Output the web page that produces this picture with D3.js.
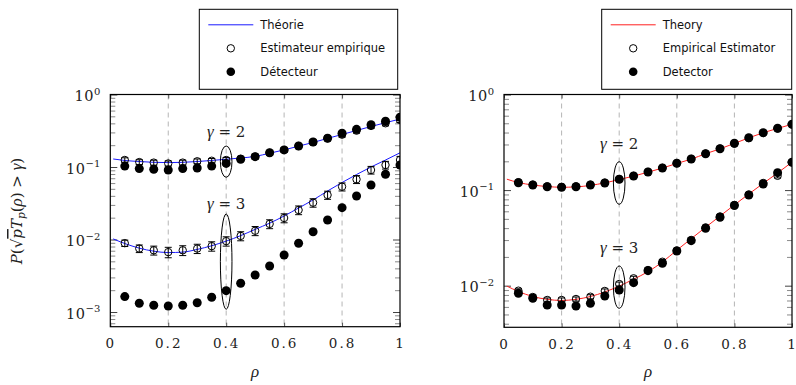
<!DOCTYPE html>
<html>
<head>
<meta charset="utf-8">
<script src="https://cdn.jsdelivr.net/npm/d3@7"></script>
<style>
  body { margin: 0; background: #fff; }
  svg { display: block; }
  .tick text { font-family: "DejaVu Serif", serif; }
</style>
</head>
<body>
<script>
// sample positions (rho)
const rho = [0.05, 0.1, 0.15, 0.2, 0.25, 0.3, 0.35, 0.4, 0.45, 0.5,
  0.55, 0.6, 0.65, 0.7, 0.75, 0.8, 0.85, 0.9, 0.95, 1.0];
const rhoTheory = [0.01, 0.05, 0.1, 0.15, 0.2, 0.25, 0.3, 0.35, 0.4, 0.45, 0.5,
  0.55, 0.6, 0.65, 0.7, 0.75, 0.8, 0.85, 0.9, 0.95, 1.0];

// left panel (french)
const leftTheory2 = [0.129, 0.123, 0.119, 0.116, 0.115, 0.116, 0.119, 0.123, 0.128, 0.133, 0.140,
  0.155, 0.172, 0.194, 0.218, 0.248, 0.281, 0.319, 0.362, 0.408, 0.459];
const leftTheory3 = [0.0102, 0.0088, 0.0076, 0.0069, 0.0066, 0.0067, 0.0073, 0.0082, 0.0095, 0.0113, 0.0138,
  0.0168, 0.0211, 0.0272, 0.0351, 0.0467, 0.0611, 0.0788, 0.100, 0.1248, 0.157];
const leftEmp2 = [0.125, 0.117, 0.115, 0.112, 0.115, 0.120, 0.122, 0.125, 0.130, 0.139,
  0.157, 0.172, 0.195, 0.221, 0.249, 0.279, 0.317, 0.368, 0.401, 0.445];
const leftEmp2Err = [0.009, 0.009, 0.009, 0.009, 0.009, 0.009, 0.009, 0.01, 0.01, 0.011,
  0.012, 0.013, 0.015, 0.017, 0.019, 0.021, 0.024, 0.028, 0.031, 0.034];
const leftDet2 = [0.103, 0.095, 0.093, 0.091, 0.095, 0.097, 0.103, 0.112, 0.128, 0.139,
  0.157, 0.172, 0.195, 0.221, 0.249, 0.292, 0.331, 0.383, 0.427, 0.485];
const leftEmp3 = [0.0089, 0.0075, 0.0071, 0.0067, 0.0071, 0.0075, 0.0081, 0.0095, 0.0112, 0.0132,
  0.0164, 0.0198, 0.0255, 0.0322, 0.0411, 0.0535, 0.0676, 0.0909, 0.1066, 0.125];
const leftEmp3Err = [0.0009, 0.0009, 0.001, 0.0011, 0.0011, 0.0011, 0.0012, 0.0014, 0.0016, 0.0019,
  0.0023, 0.0028, 0.0035, 0.0043, 0.0053, 0.0068, 0.0085, 0.011, 0.013, 0.015];
const leftDet3 = [0.00163, 0.00132, 0.00124, 0.00121, 0.00124, 0.00134, 0.00160, 0.00197, 0.00249, 0.00324,
  0.00431, 0.00611, 0.00887, 0.0128, 0.0186, 0.0275, 0.0398, 0.0565, 0.0793, 0.1066];

// right panel (english)
const rightTheory2 = [0.130, 0.120, 0.113, 0.109, 0.107, 0.108, 0.112, 0.119, 0.129, 0.140, 0.154,
  0.170, 0.190, 0.211, 0.240, 0.270, 0.308, 0.352, 0.398, 0.442, 0.488];
const rightTheory3 = [0.0099, 0.0087, 0.0077, 0.0072, 0.0070, 0.0072, 0.0077, 0.0086, 0.0099, 0.0117, 0.0140,
  0.0177, 0.0235, 0.0310, 0.0408, 0.0535, 0.0700, 0.0910, 0.1175, 0.1510, 0.196];
const rightEmp2 = [0.1210, 0.1140, 0.1095, 0.1080, 0.1095, 0.1140, 0.1195, 0.1305, 0.1410, 0.1550,
  0.1710, 0.1910, 0.2120, 0.2410, 0.2720, 0.3060, 0.3500, 0.3950, 0.4400, 0.4860];
const rightEmp2Err = [0.004, 0.004, 0.004, 0.004, 0.004, 0.004, 0.004, 0.005, 0.005, 0.005,
  0.006, 0.006, 0.007, 0.008, 0.009, 0.01, 0.011, 0.012, 0.013, 0.014];
const rightDet2 = [0.1195, 0.1131, 0.1085, 0.1070, 0.1085, 0.1131, 0.1187, 0.1297, 0.1404, 0.1546,
  0.1703, 0.1907, 0.2115, 0.2403, 0.2710, 0.3087, 0.3532, 0.3986, 0.4430, 0.4879];
const rightEmp3 = [0.00887, 0.00762, 0.00709, 0.00709, 0.00726, 0.00767, 0.00881, 0.01042, 0.01195, 0.01459,
  0.01782, 0.02335, 0.0301, 0.0407, 0.0530, 0.0700, 0.0897, 0.1188, 0.141, 0.1953];
const rightEmp3Err = [0.0004, 0.0004, 0.00035, 0.00035, 0.00036, 0.00038, 0.00044, 0.0005, 0.0006, 0.0007,
  0.0009, 0.0012, 0.0015, 0.002, 0.0026, 0.0035, 0.0045, 0.006, 0.007, 0.01];
const rightDet3 = [0.00833, 0.00738, 0.00628, 0.00628, 0.00613, 0.00655, 0.00780, 0.00902, 0.01075, 0.01435,
  0.01715, 0.02307, 0.02956, 0.03986, 0.05194, 0.06902, 0.08884, 0.1158, 0.1521, 0.1953];

const xTicks = [0, 0.2, 0.4, 0.6, 0.8, 1];
const xGrid = [0.2, 0.4, 0.6, 0.8];
const legendLeft = ['Théorie', 'Estimateur empirique', 'Détecteur'];
const legendRight = ['Theory', 'Empirical Estimator', 'Detector'];

// gamma annotations: label value, ellipse top / bottom values
const notesLeft = [
  { gamma: 2, text: 0.262, top: 0.195, bottom: 0.0721 },
  { gamma: 3, text: 0.0261, top: 0.0225, bottom: 0.00109 }
];
const notesRight = [
  { gamma: 2, text: 0.267, top: 0.198, bottom: 0.0710 },
  { gamma: 3, text: 0.0218, top: 0.01607, bottom: 0.0058 }
];

const greekFont = '"Liberation Serif", "DejaVu Serif", serif';

const svg = d3.select('body').append('svg')
  .attr('width', 796).attr('height', 385);

function drawPanel(cfg) {
  const x = d3.scaleLinear().domain([0, 1]).range([cfg.left, cfg.right]);
  const y = d3.scaleLog().domain([cfg.yMin, 1]).range([cfg.bottom, cfg.top]);
  const g = svg.append('g');

  const clipId = 'clip' + cfg.id;
  svg.append('clipPath').attr('id', clipId)
    .append('rect')
    .attr('x', cfg.left).attr('y', cfg.top)
    .attr('width', cfg.right - cfg.left).attr('height', cfg.bottom - cfg.top);

  // dashed grid
  g.selectAll('line.grid').data(xGrid)
    .enter().append('line')
    .attr('class', 'grid')
    .attr('x1', d => x(d)).attr('x2', d => x(d))
    .attr('y1', cfg.top).attr('y2', cfg.bottom)
    .attr('stroke', '#b5b5b5')
    .attr('stroke-width', 1)
    .attr('stroke-dasharray', '5,4');

  // x axis bottom + top ticks
  const xAxis = d3.axisBottom(x).tickValues(xTicks)
    .tickSizeInner(-4).tickSizeOuter(0).tickPadding(12)
    .tickFormat(d => d === 0 || d === 1 ? String(d) : d.toFixed(1));
  const xg = g.append('g')
    .attr('transform', `translate(0,${cfg.bottom})`)
    .call(xAxis);
  xg.select('.domain').remove();
  xg.selectAll('.tick line').attr('stroke', '#555');
  xg.selectAll('.tick text')
    .attr('font-size', 13.5).attr('letter-spacing', '2px')
    .attr('fill', '#222');

  const xTop = g.append('g')
    .attr('transform', `translate(0,${cfg.top})`)
    .call(d3.axisTop(x).tickValues(xTicks).tickSizeInner(-4).tickSizeOuter(0).tickFormat(''));
  xTop.select('.domain').remove();
  xTop.selectAll('.tick line').attr('stroke', '#555');

  // y ticks (log): majors at decades, minors 2..9
  const lo = Math.floor(Math.log10(cfg.yMin));
  const majors = d3.range(lo, 1).map(e => Math.pow(10, e)).filter(v => v >= cfg.yMin);
  const minors = [];
  d3.range(lo, 0).forEach(e => {
    d3.range(2, 10).forEach(k => {
      const v = k * Math.pow(10, e);
      if (v >= cfg.yMin && v < 1) minors.push(v);
    });
  });

  [['L', cfg.left, d3.axisLeft], ['R', cfg.right, d3.axisRight]].forEach(([side, pos, ax]) => {
    const mg = g.append('g').attr('transform', `translate(${pos},0)`)
      .call(ax(y).tickValues(minors).tickSizeInner(-5).tickSizeOuter(0).tickFormat(''));
    mg.select('.domain').remove();
    mg.selectAll('.tick line').attr('stroke', '#8a8a8a');

    const Mg = g.append('g').attr('transform', `translate(${pos},0)`)
      .call(ax(y).tickValues(majors).tickSizeInner(-7).tickSizeOuter(0).tickPadding(10)
        .tickFormat(''));
    Mg.select('.domain').remove();
    Mg.selectAll('.tick line').attr('stroke', '#444');
    if (side === 'L') {
      Mg.selectAll('.tick text')
        .attr('font-size', 14.5).attr('fill', '#222')
        .attr('dy', '0.42em')
        .each(function(d) {
          const t = d3.select(this);
          const e = Math.round(Math.log10(d));
          t.append('tspan').attr('letter-spacing', '0.5px').text('10');
          t.append('tspan').attr('dy', -6.5).attr('font-size', 10)
            .text(e < 0 ? '\u2212' + (-e) : String(e));
        });
    }
  });

  // theory lines
  const line = d3.line().x(d => x(d[0])).y(d => y(d[1])).curve(d3.curveMonotoneX);
  [cfg.theory2, cfg.theory3].forEach(vals => {
    g.append('path')
      .datum(rhoTheory.map((r, i) => [r, vals[i]]))
      .attr('clip-path', `url(#${clipId})`)
      .attr('fill', 'none')
      .attr('stroke', cfg.color)
      .attr('stroke-width', 1)
      .attr('d', line);
  });

  // empirical estimator: open circles with error bars
  [[cfg.emp2, cfg.emp2Err], [cfg.emp3, cfg.emp3Err]].forEach(([vals, errs]) => {
    const pts = rho.map((r, i) => ({ r, v: vals[i], e: errs[i] }));
    const eg = g.append('g').attr('clip-path', `url(#${clipId})`);
    eg.selectAll('circle').data(pts)
      .enter().append('circle')
      .attr('cx', d => x(d.r)).attr('cy', d => y(d.v))
      .attr('r', 3.7)
      .attr('fill', 'none').attr('stroke', '#000').attr('stroke-width', 1);
    const bars = eg.selectAll('g.err').data(pts).enter().append('g').attr('class', 'err');
    bars.append('line')
      .attr('x1', d => x(d.r)).attr('x2', d => x(d.r))
      .attr('y1', d => y(d.v + d.e)).attr('y2', d => y(d.v - d.e));
    bars.append('line')
      .attr('x1', d => x(d.r) - 3.5).attr('x2', d => x(d.r) + 3.5)
      .attr('y1', d => y(d.v + d.e)).attr('y2', d => y(d.v + d.e));
    bars.append('line')
      .attr('x1', d => x(d.r) - 3.5).attr('x2', d => x(d.r) + 3.5)
      .attr('y1', d => y(d.v - d.e)).attr('y2', d => y(d.v - d.e));
    bars.selectAll('line').attr('stroke', '#000').attr('stroke-width', 1);
  });

  // detector: filled circles
  [cfg.det2, cfg.det3].forEach(vals => {
    g.append('g').attr('clip-path', `url(#${clipId})`)
      .selectAll('circle').data(rho.map((r, i) => [r, vals[i]]))
      .enter().append('circle')
      .attr('cx', d => x(d[0])).attr('cy', d => y(d[1]))
      .attr('r', 4.5)
      .attr('fill', '#000');
  });

  // gamma annotations
  cfg.notes.forEach(n => {
    g.append('ellipse')
      .attr('cx', x(0.4))
      .attr('cy', (y(n.top) + y(n.bottom)) / 2)
      .attr('rx', 5.8)
      .attr('ry', (y(n.bottom) - y(n.top)) / 2)
      .attr('fill', 'none').attr('stroke', '#000').attr('stroke-width', 1);
    const t = g.append('text')
      .attr('x', x(0.4)).attr('y', y(n.text))
      .attr('text-anchor', 'middle')
      .attr('font-family', '"DejaVu Serif", serif')
      .attr('font-size', 15).attr('fill', '#222');
    t.append('tspan').attr('font-family', greekFont).attr('font-style', 'italic')
      .attr('font-size', 17).text('\u03b3');
    t.append('tspan').text(' = ' + n.gamma);
  });

  // frame
  g.append('rect')
    .attr('x', cfg.left).attr('y', cfg.top)
    .attr('width', cfg.right - cfg.left).attr('height', cfg.bottom - cfg.top)
    .attr('fill', 'none').attr('stroke', '#000').attr('stroke-width', 1.2);

  // x label
  g.append('text')
    .attr('x', (cfg.left + cfg.right) / 2).attr('y', 377)
    .attr('text-anchor', 'middle')
    .attr('font-family', greekFont)
    .attr('font-style', 'italic')
    .attr('font-size', 17).attr('fill', '#222')
    .text('\u03c1');

  // legend
  const lg = g.append('g').attr('transform', `translate(${cfg.legend[0]},${cfg.legend[1]})`);
  lg.append('rect')
    .attr('width', cfg.legend[2]).attr('height', 80)
    .attr('fill', '#fff').attr('stroke', '#000').attr('stroke-width', 1);
  const rows = [15.5, 39, 62.5];
  lg.append('line')
    .attr('x1', 9).attr('x2', 54).attr('y1', rows[0]).attr('y2', rows[0])
    .attr('stroke', cfg.color).attr('stroke-width', 1);
  lg.append('circle').attr('cx', 31.5).attr('cy', rows[1]).attr('r', 3.7)
    .attr('fill', 'none').attr('stroke', '#000');
  lg.append('circle').attr('cx', 31.5).attr('cy', rows[2]).attr('r', 4.3)
    .attr('fill', '#000');
  lg.selectAll('text').data(cfg.labels)
    .enter().append('text')
    .attr('x', 61).attr('y', (d, i) => rows[i])
    .attr('dy', '0.35em')
    .attr('font-family', '"DejaVu Sans", sans-serif')
    .attr('font-size', 11.5).attr('fill', '#111')
    .text(d => d);
}

drawPanel({
  id: 'L', left: 110.3, right: 400, top: 94.5, bottom: 326.7, yMin: 0.000627,
  color: '#1a1aff',
  theory2: leftTheory2, theory3: leftTheory3,
  emp2: leftEmp2, emp2Err: leftEmp2Err, emp3: leftEmp3, emp3Err: leftEmp3Err,
  det2: leftDet2, det3: leftDet3,
  notes: notesLeft, labels: legendLeft,
  legend: [199.3, 9.3, 198.4]
});

drawPanel({
  id: 'R', left: 504, right: 792, top: 94.5, bottom: 327.3, yMin: 0.00367,
  color: '#ff2020',
  theory2: rightTheory2, theory3: rightTheory3,
  emp2: rightEmp2, emp2Err: rightEmp2Err, emp3: rightEmp3, emp3Err: rightEmp3Err,
  det2: rightDet2, det3: rightDet3,
  notes: notesRight, labels: legendRight,
  legend: [601.7, 9.3, 190]
});

// y label of left panel
const yl = svg.append('text')
  .attr('transform', 'translate(22,211) rotate(-90)')
  .attr('text-anchor', 'middle')
  .attr('font-family', '"DejaVu Serif", serif')
  .attr('font-size', 15).attr('fill', '#222');
yl.append('tspan').attr('font-style', 'italic').text('P');
yl.append('tspan').text('(\u221a');
yl.append('tspan').attr('font-style', 'italic').attr('text-decoration', 'overline').text('p');
yl.append('tspan').attr('font-style', 'italic').text('T');
yl.append('tspan').attr('font-style', 'italic').attr('font-size', 10.5).attr('dy', 3).text('p');
yl.append('tspan').attr('dy', -3).text('(');
yl.append('tspan').attr('font-family', greekFont).attr('font-style', 'italic').attr('font-size', 17).text('\u03c1');
yl.append('tspan').text(') > ');
yl.append('tspan').attr('font-family', greekFont).attr('font-style', 'italic').attr('font-size', 17).text('\u03b3');
yl.append('tspan').text(')');
</script>
</body>
</html>
